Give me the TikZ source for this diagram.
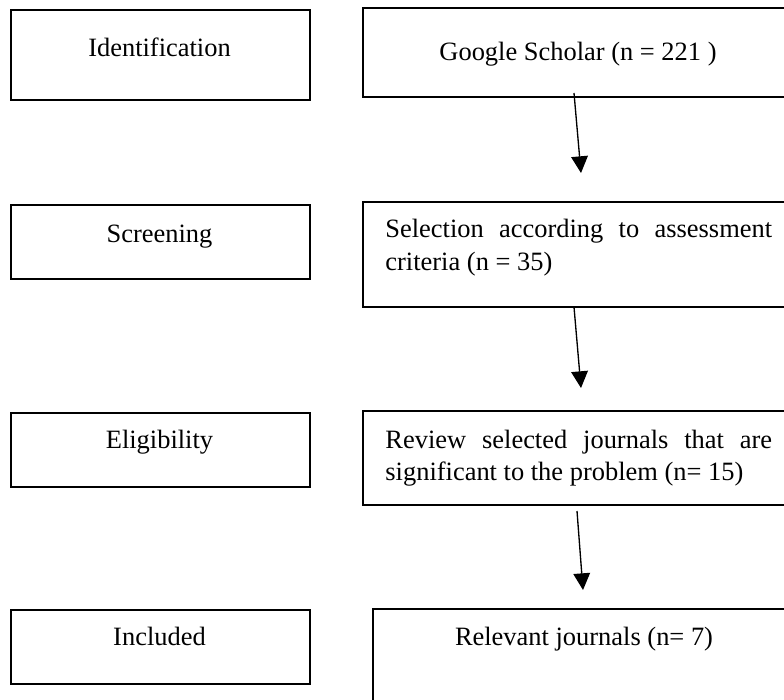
\documentclass[tikz,border=0pt]{standalone}
\usepackage{fontspec}
\setmainfont{Liberation Serif}
\usepackage{tikz}
\usetikzlibrary{arrows.meta}
\newcommand{\boxcol}{black}
\tolerance=9999
\hyphenpenalty=10000

\begin{document}
\begin{tikzpicture}[x=0.45pt, y=-0.45pt,
    txt/.style={inner sep=0pt, font=\fontsize{11.9pt}{14.6pt}\selectfont},
    para/.style={txt, text width=174pt, align=justify, anchor=north west},
    frame/.style={draw=\boxcol, line width=0.7pt},
    flow/.style={line width=0.6pt, -{Triangle[length=7.5pt,width=7.5pt]}}]

    \useasboundingbox (0,0) rectangle (784,700);
    \clip (0,0) rectangle (784,700);

    % stages on the left
    \draw[frame] (11,10) rectangle (310,100);
    \draw[frame] (11,205) rectangle (310,279);
    \draw[frame] (11,413) rectangle (310,487);
    \draw[frame] (11,610) rectangle (310,684);

    \node[txt, anchor=base] (ident) at (159.5,57) {Identification};
    \node[txt, anchor=base] (screen) at (159.5,242) {Screening};
    \node[txt, anchor=base] (elig) at (159.5,448) {Eligibility};
    \node[txt, anchor=base] (incl) at (159.5,645) {Included};

    % boxes on the right
    \draw[frame] (363,8) rectangle (800,97);
    \draw[frame] (363,202) rectangle (800,307);
    \draw[frame] (363,411) rectangle (800,505);
    \draw[frame] (373,609) rectangle (800,720);

    \node[txt, anchor=base] (scholar) at (578,61) {Google Scholar (n = 221 )};
    \node[para] (select) at (385,219) {\hyphenpenalty=10000 Selection according to assessment criteria (n = 35)};
    \node[para] (review) at (385,429.5) {\hyphenpenalty=10000 Review selected journals that are significant to the problem (n= 15)};
    \node[txt, anchor=base] (relev) at (584,645) {Relevant journals (n= 7)};

    % arrows
    \coordinate (a1) at (574,93);
    \coordinate (b1) at (581,173);
    \coordinate (a2) at (574,307);
    \coordinate (b2) at (581,388);
    \coordinate (a3) at (577,511);
    \coordinate (b3) at (583,590);

    \draw[flow] (a1) -- (b1);
    \draw[flow] (a2) -- (b2);
    \draw[flow] (a3) -- (b3);

\end{tikzpicture}
\end{document}
